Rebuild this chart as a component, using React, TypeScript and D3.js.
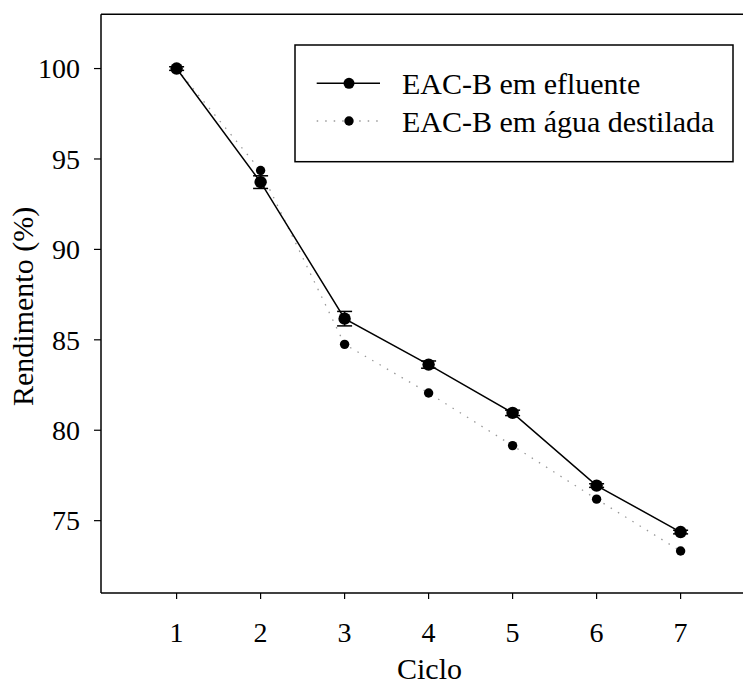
import React from "react";
import * as d3 from "d3";

const cycles = [1, 2, 3, 4, 5, 6, 7];
const efluente = [100, 93.72, 86.17, 83.63, 80.96, 76.94, 74.37];
const efluenteErr = [0.1, 0.35, 0.4, 0.2, 0.15, 0.1, 0.1];
const agua = [100, 94.36, 84.75, 82.06, 79.15, 76.19, 73.32];
const yTicks = [75, 80, 85, 90, 95, 100];
const seriesNames = ["EAC-B em efluente", "EAC-B em água destilada"];

const W = 743;
const H = 685;
const left = 101;
const top = 14.3;
const bottom = 593;

export default function App() {
  const x = d3.scaleLinear().domain([0.1, 7.9]).range([left, left + 7.8 * 84]);
  const y = d3.scaleLinear().domain([71, 103]).range([bottom, top]);
  const line = d3
    .line<number>()
    .x((_, i) => x(cycles[i]))
    .y((d) => y(d));
  const tf = { fontFamily: "Liberation Serif" };
  const right = x(7.9);
  return (
    <svg width={W} height={H} style={{ position: "absolute", left: 0, top: 0, fontFamily: "Liberation Serif" }}>
      <rect x={0} y={0} width={W} height={H} fill="#fff" />
      {/* frame */}
      <line x1={left} y1={top} x2={right} y2={top} stroke="#000" strokeWidth={1.5} />
      <line x1={right} y1={top} x2={right} y2={bottom} stroke="#000" strokeWidth={1.5} />
      <line x1={left} y1={top} x2={left} y2={bottom} stroke="#000" strokeWidth={1.5} />
      <line x1={left} y1={bottom} x2={right} y2={bottom} stroke="#000" strokeWidth={1.5} />
      {/* y ticks */}
      {yTicks.map((t) => (
        <g key={t}>
          <line x1={left - 7} x2={left} y1={y(t)} y2={y(t)} stroke="#000" strokeWidth={1.2} />
          <text x={left - 21} y={y(t)} dy="0.35em" textAnchor="end" fontSize={28} style={tf}>
            {t}
          </text>
        </g>
      ))}
      {/* x ticks */}
      {cycles.map((c) => (
        <g key={c}>
          <line x1={x(c)} x2={x(c)} y1={bottom} y2={bottom + 6} stroke="#000" strokeWidth={1.2} />
          <text x={x(c)} y={642} textAnchor="middle" fontSize={28} style={tf}>
            {c}
          </text>
        </g>
      ))}
      <text x={(left + 742) / 2 + 8} y={679} textAnchor="middle" fontSize={30} style={tf}>
        Ciclo
      </text>
      <text
        transform={`translate(33, 406) rotate(-90)`}
        textAnchor="start"
        fontSize={30}
        style={tf}
      >
        Rendimento (%)
      </text>
      {/* agua series */}
      <path d={line(agua) || ""} fill="none" stroke="#999" strokeWidth={1.3} strokeDasharray="1.5 7" />
      {agua.map((v, i) => (
        <circle key={"a" + i} cx={x(cycles[i])} cy={y(v)} r={4.7} fill="#000" />
      ))}
      {/* efluente series */}
      <path d={line(efluente) || ""} fill="none" stroke="#000" strokeWidth={1.5} />
      {efluente.map((v, i) => {
        const cx = x(cycles[i]);
        const e = efluenteErr[i];
        return (
          <g key={"e" + i}>
            <line x1={cx} x2={cx} y1={y(v + e)} y2={y(v - e)} stroke="#000" strokeWidth={1.5} />
            <line x1={cx - 7.5} x2={cx + 7.5} y1={y(v + e)} y2={y(v + e)} stroke="#000" strokeWidth={1.5} />
            <line x1={cx - 7.5} x2={cx + 7.5} y1={y(v - e)} y2={y(v - e)} stroke="#000" strokeWidth={1.5} />
            <circle cx={cx} cy={y(v)} r={6.2} fill="#000" />
          </g>
        );
      })}
      {/* legend */}
      <rect x={295} y={45} width={438} height={116.7} fill="#fff" stroke="#000" strokeWidth={1.5} />
      <line x1={316.7} x2={380} y1={83.3} y2={83.3} stroke="#000" strokeWidth={1.5} />
      <circle cx={349} cy={83.3} r={5.5} fill="#000" />
      <line x1={316.7} x2={380} y1={121} y2={121} stroke="#999" strokeWidth={1.3} strokeDasharray="1.5 7" />
      <circle cx={349} cy={121} r={4.7} fill="#000" />
      <text x={402} y={83.3} dy="0.35em" fontSize={30} style={tf}>
        {seriesNames[0]}
      </text>
      <text x={402} y={121} dy="0.35em" fontSize={30} style={tf}>
        {seriesNames[1]}
      </text>
    </svg>
  );
}
